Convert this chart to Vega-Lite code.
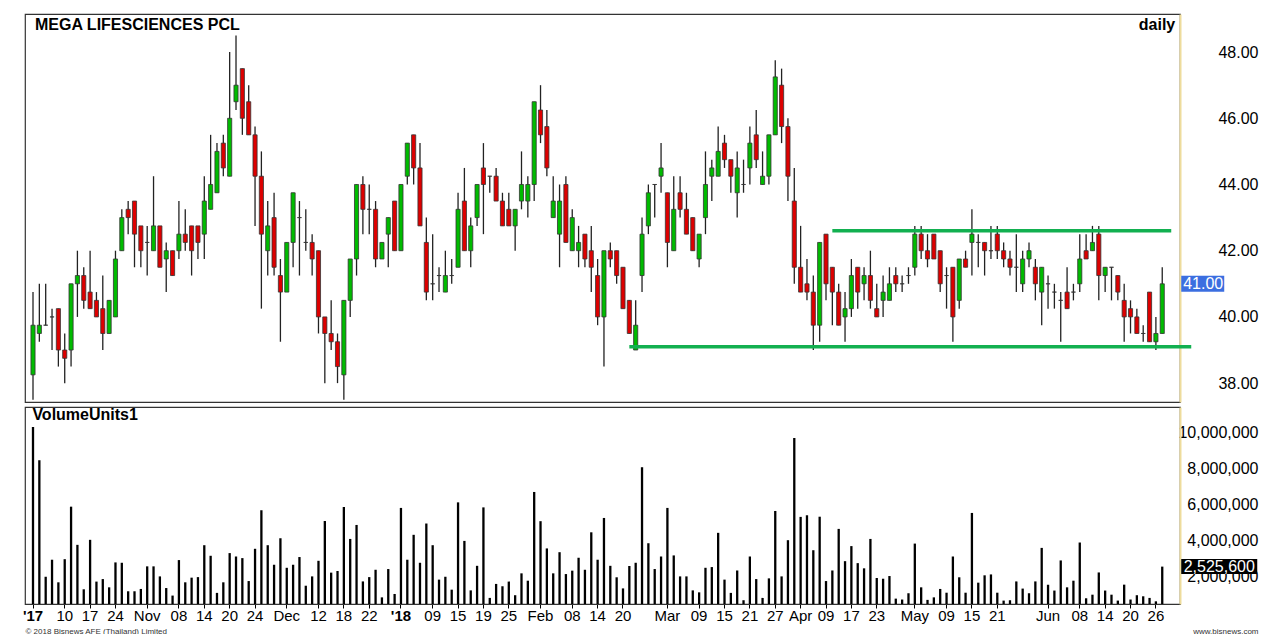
{
  "$schema": "https://vega.github.io/schema/vega-lite/v6.json",
  "padding": {"left": 21, "top": 13, "right": 4, "bottom": 0},
  "background": "white",
  "config": {
    "font": "Liberation Sans",
    "view": {"stroke": "#333333", "strokeWidth": 1.2},
    "axis": {"grid": false, "labelColor": "#000000", "labelFont": "Liberation Sans", "titleFont": "Liberation Sans"},
    "title": {"font": "Liberation Sans", "color": "#000000"}
  },
  "datasets": {
    "ohlc": [
      {"d":"2017-10-03","o":38.25,"h":40.75,"l":37.5,"c":39.75,"v":10310000},
      {"d":"2017-10-04","o":39.5,"h":41,"l":39.25,"c":39.75,"v":8460000},
      {"d":"2017-10-05","o":39.75,"h":41,"l":39.75,"c":39.75,"v":1960000},
      {"d":"2017-10-06","o":40,"h":40.25,"l":39,"c":40,"v":2910000},
      {"d":"2017-10-09","o":40.25,"h":40.25,"l":38.5,"c":39,"v":1650000},
      {"d":"2017-10-10","o":39,"h":39.5,"l":38,"c":38.75,"v":2940000},
      {"d":"2017-10-11","o":39,"h":41,"l":38.5,"c":41,"v":5870000},
      {"d":"2017-10-12","o":41,"h":42,"l":40,"c":41.25,"v":3740000},
      {"d":"2017-10-16","o":41.25,"h":41.5,"l":40.25,"c":40.5,"v":1260000},
      {"d":"2017-10-17","o":40.75,"h":42,"l":40.25,"c":40.25,"v":4020000},
      {"d":"2017-10-18","o":40.5,"h":40.75,"l":40,"c":40,"v":1690000},
      {"d":"2017-10-19","o":40.25,"h":41.25,"l":39,"c":39.5,"v":1830000},
      {"d":"2017-10-20","o":39.5,"h":40.5,"l":39.5,"c":40.5,"v":1370000},
      {"d":"2017-10-24","o":40,"h":42,"l":40,"c":41.75,"v":2760000},
      {"d":"2017-10-25","o":42,"h":43.25,"l":42,"c":43,"v":2740000},
      {"d":"2017-10-27","o":43.25,"h":43.5,"l":42.5,"c":43,"v":1150000},
      {"d":"2017-10-30","o":43.5,"h":43.5,"l":41.5,"c":42.5,"v":1150000},
      {"d":"2017-10-31","o":42.75,"h":42.75,"l":41.5,"c":42,"v":1280000},
      {"d":"2017-11-01","o":42.25,"h":42.75,"l":41.25,"c":42.25,"v":2540000},
      {"d":"2017-11-02","o":42,"h":44.25,"l":42,"c":42.75,"v":2540000},
      {"d":"2017-11-03","o":42.75,"h":42.75,"l":41.5,"c":41.5,"v":1980000},
      {"d":"2017-11-06","o":41.75,"h":42.25,"l":40.75,"c":42,"v":1330000},
      {"d":"2017-11-07","o":42,"h":42,"l":41.25,"c":41.25,"v":910000},
      {"d":"2017-11-08","o":42,"h":43.5,"l":41.75,"c":42.5,"v":2890000},
      {"d":"2017-11-09","o":42.5,"h":43.25,"l":42,"c":42.25,"v":1650000},
      {"d":"2017-11-10","o":42.75,"h":42.75,"l":41.25,"c":42,"v":1910000},
      {"d":"2017-11-13","o":42.75,"h":42.75,"l":41.75,"c":42.25,"v":1940000},
      {"d":"2017-11-14","o":42.5,"h":44.25,"l":41.75,"c":43.5,"v":3720000},
      {"d":"2017-11-15","o":43.25,"h":45.5,"l":43.25,"c":44,"v":3130000},
      {"d":"2017-11-16","o":43.75,"h":45.25,"l":43.75,"c":45,"v":1060000},
      {"d":"2017-11-17","o":45.25,"h":45.5,"l":44.25,"c":44.5,"v":1650000},
      {"d":"2017-11-20","o":44.25,"h":48,"l":44.25,"c":46,"v":3280000},
      {"d":"2017-11-21","o":46.5,"h":48.5,"l":46.25,"c":47,"v":3090000},
      {"d":"2017-11-22","o":47.5,"h":47.5,"l":45.5,"c":46,"v":3000000},
      {"d":"2017-11-23","o":46.5,"h":47,"l":45.5,"c":45.5,"v":1720000},
      {"d":"2017-11-24","o":45.5,"h":45.75,"l":42.75,"c":44.25,"v":3520000},
      {"d":"2017-11-27","o":44.25,"h":45,"l":40.25,"c":42.5,"v":5670000},
      {"d":"2017-11-28","o":42,"h":43.5,"l":41.25,"c":42.75,"v":3720000},
      {"d":"2017-11-29","o":43,"h":43.75,"l":41.25,"c":41.5,"v":2630000},
      {"d":"2017-11-30","o":41.25,"h":41.75,"l":39.25,"c":40.75,"v":4110000},
      {"d":"2017-12-01","o":40.75,"h":42.25,"l":40.75,"c":42.25,"v":2460000},
      {"d":"2017-12-04","o":42.25,"h":43.75,"l":41.5,"c":43.75,"v":2630000},
      {"d":"2017-12-06","o":43,"h":43.5,"l":41.25,"c":43,"v":3060000},
      {"d":"2017-12-07","o":42.25,"h":43.25,"l":42,"c":42.25,"v":1460000},
      {"d":"2017-12-08","o":42.25,"h":42.5,"l":41.25,"c":41.75,"v":1980000},
      {"d":"2017-12-12","o":42,"h":42,"l":39.5,"c":40,"v":2850000},
      {"d":"2017-12-13","o":40,"h":40,"l":38,"c":39.5,"v":5070000},
      {"d":"2017-12-14","o":39.5,"h":40.5,"l":39,"c":39.25,"v":2190000},
      {"d":"2017-12-15","o":39.25,"h":39.5,"l":38,"c":38.5,"v":2280000},
      {"d":"2017-12-18","o":38.25,"h":40.5,"l":37.5,"c":40.5,"v":5850000},
      {"d":"2017-12-19","o":40.5,"h":41.75,"l":40,"c":41.75,"v":4070000},
      {"d":"2017-12-20","o":41.75,"h":44,"l":41.25,"c":44,"v":4850000},
      {"d":"2017-12-21","o":44,"h":44.25,"l":42.5,"c":43.25,"v":1700000},
      {"d":"2017-12-22","o":43.25,"h":44,"l":42.5,"c":43.25,"v":1940000},
      {"d":"2017-12-25","o":43.25,"h":43.5,"l":41.5,"c":41.75,"v":2350000},
      {"d":"2017-12-26","o":41.75,"h":42.25,"l":41.75,"c":42.25,"v":810000},
      {"d":"2017-12-27","o":42.5,"h":43,"l":41.5,"c":43,"v":2390000},
      {"d":"2017-12-28","o":43.5,"h":43.5,"l":42,"c":42,"v":1000000},
      {"d":"2018-01-02","o":42,"h":44,"l":42,"c":44,"v":5800000},
      {"d":"2018-01-03","o":44.25,"h":45.25,"l":44,"c":45.25,"v":2910000},
      {"d":"2018-01-04","o":45.5,"h":45.5,"l":44,"c":44.5,"v":4300000},
      {"d":"2018-01-05","o":44.5,"h":45.25,"l":42.75,"c":42.75,"v":2740000},
      {"d":"2018-01-08","o":42.25,"h":43,"l":40.5,"c":40.75,"v":4930000},
      {"d":"2018-01-09","o":41,"h":42.5,"l":40.5,"c":41,"v":3720000},
      {"d":"2018-01-10","o":41.25,"h":41.5,"l":40.75,"c":41.25,"v":1800000},
      {"d":"2018-01-11","o":40.75,"h":42,"l":40.75,"c":41.25,"v":1960000},
      {"d":"2018-01-12","o":41.25,"h":41.75,"l":41,"c":41.25,"v":1240000},
      {"d":"2018-01-15","o":41.5,"h":43.75,"l":41.5,"c":43.25,"v":6110000},
      {"d":"2018-01-16","o":43.5,"h":44.5,"l":42,"c":42,"v":3960000},
      {"d":"2018-01-17","o":42,"h":43,"l":41.5,"c":42.75,"v":1200000},
      {"d":"2018-01-18","o":43,"h":44,"l":42.75,"c":44,"v":2570000},
      {"d":"2018-01-19","o":44.5,"h":45.25,"l":42.5,"c":44,"v":5830000},
      {"d":"2018-01-22","o":44.25,"h":44.25,"l":43.75,"c":44.25,"v":780000},
      {"d":"2018-01-23","o":44.25,"h":44.5,"l":43.5,"c":43.5,"v":1560000},
      {"d":"2018-01-24","o":43.5,"h":43.75,"l":42.75,"c":42.75,"v":1430000},
      {"d":"2018-01-25","o":43.25,"h":43.75,"l":42.75,"c":42.75,"v":1690000},
      {"d":"2018-01-26","o":42.75,"h":43.25,"l":42,"c":43.25,"v":930000},
      {"d":"2018-01-29","o":43.5,"h":45,"l":43.25,"c":44,"v":2150000},
      {"d":"2018-01-30","o":43.5,"h":44.25,"l":43,"c":44,"v":1740000},
      {"d":"2018-01-31","o":44,"h":46.5,"l":43.5,"c":46.5,"v":6690000},
      {"d":"2018-02-01","o":46.25,"h":47,"l":45.25,"c":45.5,"v":5060000},
      {"d":"2018-02-02","o":45.75,"h":46.25,"l":44.25,"c":44.5,"v":3540000},
      {"d":"2018-02-05","o":43,"h":44.25,"l":43,"c":43.5,"v":2150000},
      {"d":"2018-02-06","o":42.5,"h":44,"l":41.5,"c":43.5,"v":3330000},
      {"d":"2018-02-07","o":44,"h":44.25,"l":42.25,"c":42.25,"v":2110000},
      {"d":"2018-02-08","o":42,"h":43.25,"l":42,"c":43,"v":2300000},
      {"d":"2018-02-09","o":42,"h":42.75,"l":41.5,"c":42.25,"v":3020000},
      {"d":"2018-02-12","o":42.5,"h":42.5,"l":41.5,"c":41.75,"v":2350000},
      {"d":"2018-02-13","o":42,"h":42.75,"l":40.75,"c":41.5,"v":4440000},
      {"d":"2018-02-14","o":41.25,"h":41.75,"l":39.75,"c":40,"v":2910000},
      {"d":"2018-02-15","o":40,"h":42,"l":38.5,"c":42,"v":5240000},
      {"d":"2018-02-16","o":42,"h":42.25,"l":41.5,"c":41.75,"v":2570000},
      {"d":"2018-02-19","o":42,"h":42,"l":41,"c":41.25,"v":1930000},
      {"d":"2018-02-20","o":41.5,"h":41.5,"l":40.25,"c":40.25,"v":1310000},
      {"d":"2018-02-21","o":40.5,"h":40.5,"l":39.5,"c":39.5,"v":2560000},
      {"d":"2018-02-22","o":39,"h":40.5,"l":39,"c":39.75,"v":2740000},
      {"d":"2018-02-23","o":41.25,"h":43,"l":40.75,"c":42.5,"v":8070000},
      {"d":"2018-02-26","o":42.75,"h":44,"l":42.5,"c":43.75,"v":3830000},
      {"d":"2018-02-27","o":44,"h":44,"l":43,"c":44,"v":2390000},
      {"d":"2018-02-28","o":44.25,"h":45.25,"l":43.75,"c":44.5,"v":3090000},
      {"d":"2018-03-02","o":43.75,"h":43.75,"l":41.5,"c":42.25,"v":5800000},
      {"d":"2018-03-05","o":42,"h":44.25,"l":42,"c":43.25,"v":3150000},
      {"d":"2018-03-06","o":43.75,"h":44.25,"l":43,"c":43.25,"v":1980000},
      {"d":"2018-03-07","o":43.25,"h":43.75,"l":42.5,"c":42.5,"v":1980000},
      {"d":"2018-03-08","o":43,"h":43,"l":42,"c":42,"v":1200000},
      {"d":"2018-03-09","o":41.75,"h":42.5,"l":41.5,"c":42.5,"v":1090000},
      {"d":"2018-03-12","o":43,"h":45,"l":42.5,"c":44,"v":2460000},
      {"d":"2018-03-13","o":44.25,"h":44.75,"l":43.5,"c":44.5,"v":2500000},
      {"d":"2018-03-14","o":44.25,"h":45.75,"l":44.25,"c":45,"v":4410000},
      {"d":"2018-03-15","o":45.25,"h":45.5,"l":44.5,"c":44.75,"v":1800000},
      {"d":"2018-03-16","o":44.75,"h":44.75,"l":43.75,"c":44.25,"v":1060000},
      {"d":"2018-03-19","o":43.75,"h":45,"l":43,"c":44.5,"v":2310000},
      {"d":"2018-03-20","o":44,"h":44.75,"l":43.75,"c":44,"v":650000},
      {"d":"2018-03-21","o":44.5,"h":45.75,"l":44,"c":45.25,"v":3090000},
      {"d":"2018-03-22","o":45.5,"h":46.25,"l":44.5,"c":44.75,"v":1830000},
      {"d":"2018-03-23","o":44,"h":45,"l":44,"c":44.25,"v":780000},
      {"d":"2018-03-26","o":44.25,"h":45.5,"l":44,"c":45.5,"v":1870000},
      {"d":"2018-03-27","o":45.5,"h":47.75,"l":45.5,"c":47.25,"v":5630000},
      {"d":"2018-03-28","o":47,"h":47.5,"l":45.25,"c":45.75,"v":1980000},
      {"d":"2018-03-29","o":45.75,"h":46,"l":43.5,"c":44.25,"v":4000000},
      {"d":"2018-03-30","o":43.5,"h":44.5,"l":41,"c":41.5,"v":9700000},
      {"d":"2018-04-02","o":41.5,"h":42.75,"l":40.75,"c":40.75,"v":5300000},
      {"d":"2018-04-03","o":41,"h":41.75,"l":40.5,"c":40.75,"v":5390000},
      {"d":"2018-04-04","o":40.75,"h":41.25,"l":39,"c":39.75,"v":3440000},
      {"d":"2018-04-05","o":39.75,"h":42.25,"l":39.25,"c":42.25,"v":5310000},
      {"d":"2018-04-09","o":42.5,"h":42.5,"l":40.5,"c":41,"v":1720000},
      {"d":"2018-04-10","o":41.5,"h":41.5,"l":39.75,"c":40.75,"v":2310000},
      {"d":"2018-04-11","o":40.75,"h":41,"l":39.75,"c":39.75,"v":4630000},
      {"d":"2018-04-12","o":40,"h":40.75,"l":39.25,"c":40.25,"v":2830000},
      {"d":"2018-04-17","o":40.25,"h":41.75,"l":40,"c":41.25,"v":3670000},
      {"d":"2018-04-18","o":41.5,"h":41.5,"l":40.25,"c":40.75,"v":2720000},
      {"d":"2018-04-19","o":41,"h":41.5,"l":40.5,"c":41.25,"v":2430000},
      {"d":"2018-04-20","o":41.25,"h":42,"l":40.25,"c":40.5,"v":4070000},
      {"d":"2018-04-23","o":40.25,"h":41,"l":40,"c":40,"v":1890000},
      {"d":"2018-04-24","o":40.5,"h":41.25,"l":40,"c":40.75,"v":1850000},
      {"d":"2018-04-25","o":40.5,"h":41.5,"l":40.5,"c":41,"v":2000000},
      {"d":"2018-04-26","o":41.25,"h":41.5,"l":40.75,"c":41,"v":740000},
      {"d":"2018-04-27","o":41,"h":41.25,"l":40.75,"c":41,"v":690000},
      {"d":"2018-04-30","o":41.25,"h":41.5,"l":41,"c":41.25,"v":1040000},
      {"d":"2018-05-02","o":41.5,"h":42.75,"l":41.25,"c":42.5,"v":3810000},
      {"d":"2018-05-03","o":42.5,"h":42.75,"l":41.75,"c":42,"v":1370000},
      {"d":"2018-05-04","o":42,"h":42.5,"l":41.5,"c":41.75,"v":670000},
      {"d":"2018-05-07","o":42.5,"h":42.5,"l":41.75,"c":41.75,"v":810000},
      {"d":"2018-05-08","o":42,"h":42,"l":40.75,"c":41,"v":1280000},
      {"d":"2018-05-09","o":41.25,"h":41.5,"l":40.25,"c":41.25,"v":1070000},
      {"d":"2018-05-10","o":41.5,"h":41.5,"l":39.25,"c":40,"v":3090000},
      {"d":"2018-05-11","o":40.5,"h":41.75,"l":40.25,"c":41.75,"v":1930000},
      {"d":"2018-05-14","o":41.75,"h":42,"l":41.5,"c":41.5,"v":1070000},
      {"d":"2018-05-15","o":42.25,"h":43.25,"l":41.25,"c":42.5,"v":5520000},
      {"d":"2018-05-16","o":42.25,"h":42.5,"l":41.5,"c":42.25,"v":1630000},
      {"d":"2018-05-17","o":42.25,"h":42.25,"l":41.25,"c":42,"v":2040000},
      {"d":"2018-05-18","o":42,"h":42.75,"l":41.75,"c":42,"v":2090000},
      {"d":"2018-05-21","o":42.5,"h":42.75,"l":41.75,"c":42,"v":1070000},
      {"d":"2018-05-22","o":42,"h":42.25,"l":41.5,"c":41.75,"v":630000},
      {"d":"2018-05-23","o":41.75,"h":42,"l":41.25,"c":41.5,"v":650000},
      {"d":"2018-05-24","o":41.5,"h":42.5,"l":40.75,"c":41.5,"v":1700000},
      {"d":"2018-05-25","o":41,"h":42,"l":40.75,"c":41.75,"v":1300000},
      {"d":"2018-05-28","o":41.75,"h":42.25,"l":41.5,"c":42,"v":1040000},
      {"d":"2018-05-30","o":41.5,"h":41.75,"l":40.5,"c":41,"v":1700000},
      {"d":"2018-05-31","o":40.75,"h":41.5,"l":39.75,"c":41.5,"v":3570000},
      {"d":"2018-06-01","o":41,"h":41.25,"l":40.25,"c":41,"v":1520000},
      {"d":"2018-06-04","o":40.75,"h":41,"l":40.25,"c":40.75,"v":1190000},
      {"d":"2018-06-05","o":40.5,"h":40.75,"l":39.25,"c":40.5,"v":2870000},
      {"d":"2018-06-06","o":40.75,"h":41.5,"l":40.25,"c":40.25,"v":1370000},
      {"d":"2018-06-07","o":40.75,"h":41,"l":40.5,"c":40.75,"v":1740000},
      {"d":"2018-06-08","o":41,"h":42.5,"l":40.75,"c":41.75,"v":3870000},
      {"d":"2018-06-11","o":42,"h":42.5,"l":41.75,"c":41.75,"v":760000},
      {"d":"2018-06-12","o":42,"h":42.75,"l":42,"c":42.25,"v":960000},
      {"d":"2018-06-13","o":42.5,"h":42.75,"l":40.5,"c":41.25,"v":2200000},
      {"d":"2018-06-14","o":41.25,"h":41.5,"l":40.75,"c":41.5,"v":1190000},
      {"d":"2018-06-15","o":41.5,"h":41.5,"l":40.5,"c":41.5,"v":960000},
      {"d":"2018-06-18","o":41.25,"h":41.25,"l":40.5,"c":40.75,"v":630000},
      {"d":"2018-06-19","o":40.5,"h":41,"l":39.25,"c":40,"v":1520000},
      {"d":"2018-06-20","o":40.25,"h":40.5,"l":39.5,"c":40,"v":690000},
      {"d":"2018-06-21","o":40,"h":40.25,"l":39.5,"c":39.5,"v":930000},
      {"d":"2018-06-22","o":39.5,"h":39.75,"l":39.25,"c":39.5,"v":870000},
      {"d":"2018-06-25","o":40.75,"h":40.75,"l":39.25,"c":39.25,"v":780000},
      {"d":"2018-06-26","o":39.25,"h":40,"l":39,"c":39.5,"v":590000},
      {"d":"2018-06-27","o":39.5,"h":41.5,"l":39.5,"c":41,"v":2525600}
    ],
    "lines": [
      {"name": "support", "from": "2018-02-21", "to": "2018-06-27", "p": 39.1},
      {"name": "resistance", "from": "2018-04-10", "to": "2018-06-27", "p": 42.6}
    ],
    "tag": [{"t": "daily"}]
  },
  "vconcat": [
    {
      "width": 1155,
      "height": 388,
      "title": {"text": "MEGA LIFESCIENCES PCL", "anchor": "start", "offset": -19, "dx": 10, "fontSize": 16, "fontWeight": "bold"},
      "layer": [
        {
          "data": {"name": "ohlc"},
          "mark": {"type": "rule", "color": "#222222", "strokeWidth": 1.3},
          "encoding": {
            "x": {"field": "d", "type": "ordinal", "scale": {"type": "band", "paddingInner": 0.35, "paddingOuter": 0, "range": [5.94, 1139.3]}, "axis": null},
            "y": {"field": "l", "type": "quantitative", "scale": {"domain": [37.43, 49.15], "zero": false, "nice": false},
              "axis": {"orient": "right", "values": [38, 40, 42, 44, 46, 48], "format": ".2f", "labelFontSize": 16, "labelAlign": "right", "labelBaseline": "middle", "labelPadding": 78, "ticks": false, "domainColor": "#eedc9c", "domainWidth": 2, "title": null}},
            "y2": {"field": "h"}
          }
        },
        {
          "data": {"name": "ohlc"},
          "mark": {"type": "bar", "stroke": "#333333", "strokeWidth": 0.8},
          "encoding": {
            "x": {"field": "d", "type": "ordinal", "axis": null},
            "y": {"field": "o", "type": "quantitative"},
            "y2": {"field": "c"},
            "fill": {"condition": {"test": "datum.c >= datum.o", "value": "#00bb00"}, "value": "#dd0000"}
          }
        },
        {
          "data": {"name": "lines"},
          "transform": [{"filter": "datum.name == 'support'"}],
          "mark": {"type": "rule", "color": "#12b050", "strokeWidth": 3.5, "x2Offset": 29},
          "encoding": {
            "x": {"field": "from", "type": "ordinal", "axis": null},
            "x2": {"field": "to"},
            "y": {"field": "p", "type": "quantitative"}
          }
        },
        {
          "data": {"name": "lines"},
          "transform": [{"filter": "datum.name == 'resistance'"}],
          "mark": {"type": "rule", "color": "#12b050", "strokeWidth": 3.5, "x2Offset": 9},
          "encoding": {
            "x": {"field": "from", "type": "ordinal", "axis": null},
            "x2": {"field": "to"},
            "y": {"field": "p", "type": "quantitative"}
          }
        },
        {
          "data": {"name": "ohlc"},
          "transform": [{"filter": "datum.d == '2018-06-27'"}],
          "mark": {"type": "rule", "color": "#3b6ee0", "strokeWidth": 16, "strokeCap": "butt", "xOffset": 19, "x2Offset": 62},
          "encoding": {
            "x": {"field": "d", "type": "ordinal", "axis": null},
            "x2": {"field": "d"},
            "y": {"field": "c", "type": "quantitative"}
          }
        },
        {
          "data": {"name": "ohlc"},
          "transform": [{"filter": "datum.d == '2018-06-27'"}],
          "mark": {"type": "text", "color": "#ffffff", "fontSize": 16, "dx": 41, "align": "center", "baseline": "middle"},
          "encoding": {
            "x": {"field": "d", "type": "ordinal", "axis": null},
            "y": {"field": "c", "type": "quantitative"},
            "text": {"field": "c", "format": ".2f"}
          }
        },
        {
          "data": {"name": "tag"},
          "mark": {"type": "text", "color": "#000000", "fontSize": 16, "fontWeight": "bold", "dx": 13, "align": "right", "baseline": "alphabetic"},
          "encoding": {
            "x": {"datum": "2018-06-27", "type": "ordinal", "axis": null},
            "y": {"datum": 48.66, "type": "quantitative"},
            "text": {"field": "t"}
          }
        }
      ]
    },
    {
      "width": 1155,
      "height": 197,
      "title": {"text": "VolumeUnits1", "anchor": "start", "offset": -16, "dx": 10, "fontSize": 16, "fontWeight": "bold"},
      "layer": [
        {
          "data": {"name": "ohlc"},
          "mark": {"type": "bar", "color": "#000000", "width": 2.3, "clip": true},
          "encoding": {
            "x": {"field": "d", "type": "ordinal", "scale": {"type": "band", "paddingInner": 0.35, "paddingOuter": 0, "range": [5.94, 1139.3]},
              "axis": {
                "values": ["2017-10-03","2017-10-10","2017-10-17","2017-10-24","2017-11-01","2017-11-08","2017-11-14","2017-11-20","2017-11-24","2017-12-01","2017-12-12","2017-12-18","2017-12-22","2018-01-02","2018-01-09","2018-01-15","2018-01-19","2018-01-25","2018-02-01","2018-02-08","2018-02-14","2018-02-20","2018-03-02","2018-03-09","2018-03-15","2018-03-21","2018-03-27","2018-04-02","2018-04-09","2018-04-17","2018-04-23","2018-05-02","2018-05-09","2018-05-15","2018-05-21","2018-06-01","2018-06-08","2018-06-14","2018-06-20","2018-06-26"],
                "labelExpr": "datum.value == '2017-10-03' ? \"'17\" : datum.value == '2018-01-02' ? \"'18\" : (substring(datum.value, 8, 10) == '01' || substring(datum.value, 8, 10) == '02') ? ['Jan','Feb','Mar','Apr','May','Jun','Jul','Aug','Sep','Oct','Nov','Dec'][toNumber(substring(datum.value, 5, 7)) - 1] : substring(datum.value, 8, 10)",
                "labelFontSize": 15,
                "labelFontWeight": {"condition": {"test": "datum.value == '2017-10-03' || datum.value == '2018-01-02'", "value": "bold"}, "value": "normal"},
                "labelAngle": 0,
                "labelOverlap": false,
                "labelPadding": 0,
                "tickSize": 4,
                "tickColor": "#000000",
                "domainColor": "#333333",
                "title": "© 2018 Bisnews AFE (Thailand) Limited",
                "titleAnchor": "start",
                "titleAlign": "left",
                "titleX": 0,
                "titleY": 27,
                "titleBaseline": "middle",
                "titleFontSize": 8,
                "titleFontWeight": "normal",
                "titleColor": "#333333"
              }
            },
            "y": {"field": "v", "type": "quantitative", "scale": {"domain": [440000, 11430000], "zero": false, "nice": false},
              "axis": {"orient": "right", "values": [2000000, 4000000, 6000000, 8000000, 10000000], "format": ",.0f", "labelFontSize": 16, "labelAlign": "right", "labelBaseline": "middle", "labelPadding": 78, "ticks": false, "domainColor": "#eedc9c", "domainWidth": 2,
                "title": "www.bisnews.com", "titleAngle": 0, "titleX": 78, "titleY": 224, "titleAlign": "right", "titleBaseline": "middle", "titleFontSize": 8, "titleFontWeight": "normal", "titleColor": "#333333"}}
          }
        },
        {
          "data": {"name": "ohlc"},
          "transform": [{"filter": "datum.d == '2018-06-27'"}],
          "mark": {"type": "rule", "color": "#000000", "strokeWidth": 15, "strokeCap": "butt", "xOffset": 19, "x2Offset": 95},
          "encoding": {
            "x": {"field": "d", "type": "ordinal"},
            "x2": {"field": "d"},
            "y": {"field": "v", "type": "quantitative"}
          }
        },
        {
          "data": {"name": "ohlc"},
          "transform": [{"filter": "datum.d == '2018-06-27'"}],
          "mark": {"type": "text", "color": "#ffffff", "fontSize": 16, "dx": 57, "align": "center", "baseline": "middle"},
          "encoding": {
            "x": {"field": "d", "type": "ordinal"},
            "y": {"field": "v", "type": "quantitative"},
            "text": {"field": "v", "format": ",.0f"}
          }
        }
      ]
    }
  ],
  "spacing": 3,
  "resolve": {"scale": {"x": "shared"}}
}
